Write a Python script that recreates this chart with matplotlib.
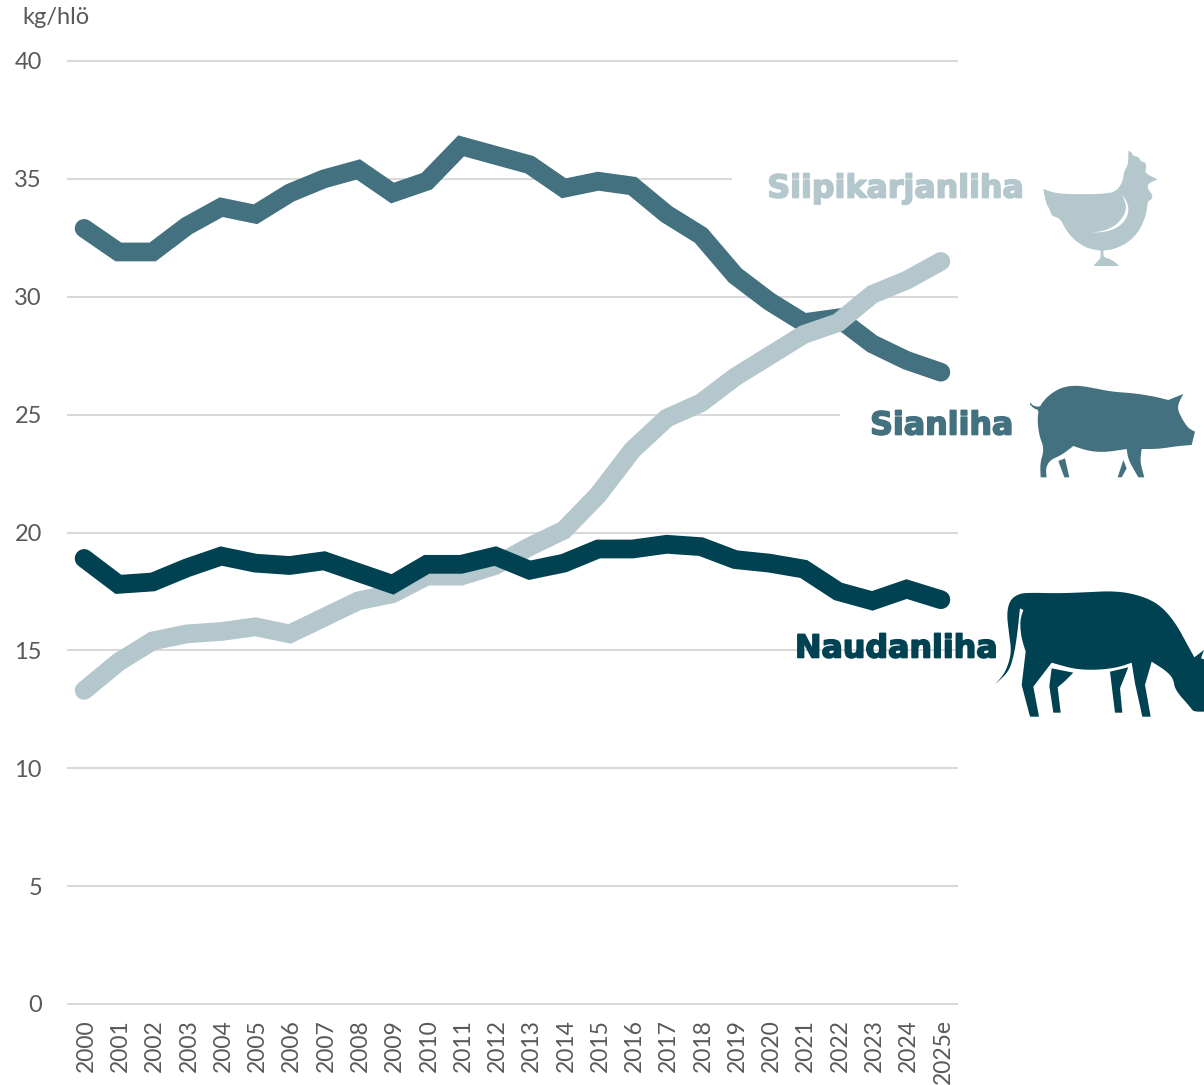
import matplotlib
matplotlib.use('Agg')
import matplotlib.pyplot as plt
import matplotlib.patheffects as pe
from matplotlib.patches import Polygon
from matplotlib.transforms import ScaledTranslation
import numpy as np

W, H = 1204, 1085

year_labels = [str(y) for y in range(2000, 2025)] + ['2025e']
y_ticks = [0, 5, 10, 15, 20, 25, 30, 35, 40]

# kg/hlo
sianliha = [32.9, 31.9, 31.9, 33.0, 33.8, 33.5, 34.4, 35.0, 35.4, 34.4, 34.9, 36.4, 36.0,
            35.6, 34.6, 34.9, 34.7, 33.5, 32.6, 30.9, 29.8, 28.9, 29.1, 28.0, 27.3, 26.8]
siipikarja = [13.3, 14.5, 15.4, 15.7, 15.8, 16.0, 15.7, 16.4, 17.1, 17.4, 18.15, 18.15, 18.6,
              19.4, 20.1, 21.6, 23.5, 24.85, 25.5, 26.6, 27.5, 28.4, 28.9, 30.1, 30.7, 31.5]
naudanliha = [18.9, 17.8, 17.9, 18.5, 19.0, 18.7, 18.6, 18.8, 18.3, 17.8, 18.65, 18.65, 19.0,
              18.4, 18.7, 19.3, 19.3, 19.5, 19.4, 18.85, 18.7, 18.45, 17.5, 17.1, 17.6, 17.15]

C_PORK = '#44717f'
C_POULTRY = '#b3c7cd'
C_BEEF = '#004152'
C_GRID = '#d9d9d9'
C_TEXT = '#595959'

plt.rcParams['font.family'] = ['Lato', 'DejaVu Sans']

fig = plt.figure(figsize=(W / 100, H / 100), dpi=100)
ax = fig.add_axes([67 / W, 1 - 1004 / H, (958 - 67) / W, (1004 - 61) / H])

x = np.arange(len(year_labels))
ax.set_xlim(-0.5, len(year_labels) - 0.5)
ax.set_ylim(0, 40)

# two gridlines stop short of the series labels
for t in y_ticks:
    end = 25.5
    if t == 35:
        end = 18.9
    if t == 25:
        end = 22.05
    ax.plot([-0.5, end], [t, t], color=C_GRID, lw=1.5, zorder=1, clip_on=False, solid_capstyle='butt')

ax.plot(x, sianliha, color=C_PORK, lw=13.5, solid_capstyle='round', solid_joinstyle='miter', zorder=2, clip_on=False)
ax.plot(x, siipikarja, color=C_POULTRY, lw=13.5, solid_capstyle='round', solid_joinstyle='miter', zorder=3, clip_on=False)
ax.plot(x, naudanliha, color=C_BEEF, lw=13.5, solid_capstyle='round', solid_joinstyle='miter', zorder=4, clip_on=False)

for s in ax.spines.values():
    s.set_visible(False)
ax.set_xticks(x)
ax.set_xticklabels(year_labels, rotation=90, fontsize=16.5, color=C_TEXT)
ax.set_yticks(y_ticks)
ax.set_yticklabels([str(t) for t in y_ticks], fontsize=17, color=C_TEXT)
ax.tick_params(axis='x', length=0, pad=11)
ax.tick_params(axis='y', length=0, pad=18)
shift = ScaledTranslation(1.5 / 72, 0, fig.dpi_scale_trans)
for lab in ax.get_xticklabels():
    lab.set_transform(lab.get_transform() + shift)

# overlay in pixel coordinates for labels and the animal icons
ov = fig.add_axes([0, 0, 1, 1])
ov.set_xlim(0, W)
ov.set_ylim(H, 0)
ov.axis('off')
ov.patch.set_alpha(0)

ov.text(22, 18, 'kg/hlö', fontsize=17, color=C_TEXT, ha='left', va='center')
bold = ['DejaVu Sans']
for name, px, py, col in [('Siipikarjanliha', 1023, 189, C_POULTRY),
                          ('Sianliha', 1013, 426, C_PORK),
                          ('Naudanliha', 997, 649, C_BEEF)]:
    txt = ov.text(px, py, name, fontsize=22.8, family=bold, fontweight='bold', color=col, ha='right', va='center')
    txt.set_path_effects([pe.withStroke(linewidth=1.2, foreground=col)])


def smooth(pts, sharp, n=3):
    # corner cutting, vertices in sharp stay as they are
    for _ in range(n):
        new = []
        for i, p in enumerate(pts):
            if p in sharp:
                new.append(p)
                continue
            a = pts[i - 1]
            b = pts[(i + 1) % len(pts)]
            new.append((0.75 * p[0] + 0.25 * a[0], 0.75 * p[1] + 0.25 * a[1]))
            new.append((0.75 * p[0] + 0.25 * b[0], 0.75 * p[1] + 0.25 * b[1]))
        pts = new
    return pts


def icon(points, ox, oy, color, sharp=None):
    if sharp is None:
        sharp = points
    pts = smooth(points, sharp)
    pts = [(ox + px / 3, oy + py / 3) for px, py in pts]
    ov.add_patch(Polygon(pts, closed=True, facecolor=color, edgecolor='none'))


chicken = [(40, 147), (85, 163), (235, 162), (262, 150), (278, 125), (282, 95), (295, 72), (295, 33),
           (303, 35), (310, 48), (325, 50), (333, 65), (348, 68), (348, 85), (345, 100), (383, 118),
           (355, 130), (352, 145), (368, 165), (365, 178), (352, 185), (350, 220), (330, 270), (295, 308),
           (250, 328), (220, 332), (220, 352), (245, 358), (268, 378), (190, 378), (208, 358), (212, 352),
           (212, 332), (170, 325), (130, 298), (105, 265), (90, 235), (65, 228), (60, 210), (48, 190)]
wing = [(275, 162), (291, 185), (297, 210), (287, 240), (262, 264), (225, 276), (185, 278), (225, 272),
        (257, 256), (279, 232), (289, 207), (285, 185)]
icon(chicken, 1030, 140, C_POULTRY, [(40, 147), (295, 33), (383, 118), (268, 378), (190, 378), (220, 332), (212, 332)])
icon(wing, 1030, 140, 'white', [(275, 162), (185, 278)])

pig = [(15, 82), (25, 93), (45, 96), (50, 85), (70, 62), (100, 42), (130, 33), (165, 32), (210, 40),
       (260, 50), (330, 55), (390, 65), (430, 75), (475, 57), (455, 95), (470, 130), (490, 160), (510, 170),
       (500, 210), (460, 213), (400, 222), (350, 222), (345, 260), (358, 307), (340, 307), (310, 255),
       (305, 222), (240, 232), (190, 228), (145, 213), (110, 240), (75, 255), (62, 280), (65, 307), (47, 307),
       (45, 265), (58, 222), (42, 180), (37, 130), (42, 105), (25, 100), (15, 88)]
icon(pig, 1025, 375, C_PORK, [(15, 82), (430, 75), (475, 57), (510, 170), (500, 210), (350, 222), (358, 307),
                              (340, 307), (305, 222), (145, 213), (65, 307), (47, 307), (15, 88)])
icon([(100, 258), (120, 250), (133, 307), (118, 307)], 1025, 375, C_PORK)
icon([(295, 255), (305, 280), (290, 307), (278, 307)], 1025, 375, C_PORK)

cow = [(30, 313), (60, 280), (80, 220), (72, 160), (65, 100), (75, 60), (100, 42), (130, 38), (220, 40),
       (300, 37), (380, 33), (440, 40), (500, 60), (540, 90), (575, 135), (605, 190), (628, 232), (657, 210),
       (648, 235), (657, 238), (657, 395), (625, 395), (615, 380), (570, 330), (565, 295), (540, 270), (500, 245),
       (480, 315), (497, 410), (472, 410), (450, 310), (440, 248), (400, 262), (340, 270), (270, 268), (200, 248),
       (145, 320), (162, 410), (135, 410), (110, 315), (122, 215), (108, 170), (105, 120), (115, 90), (105, 85),
       (97, 160), (88, 220), (72, 275)]
icon(cow, 985, 580, C_BEEF, [(30, 313), (628, 232), (657, 210), (648, 235), (657, 238), (657, 395), (500, 245),
                             (480, 315), (497, 410), (472, 410), (450, 310), (440, 248), (200, 248), (145, 320),
                             (162, 410), (135, 410), (110, 315), (122, 215), (115, 90), (105, 85)])
icon([(200, 265), (265, 278), (240, 303), (218, 322), (227, 398), (205, 398), (193, 318)], 985, 580, C_BEEF)
icon([(375, 275), (430, 262), (405, 325), (412, 398), (390, 398)], 985, 580, C_BEEF)

fig.savefig('out.png', dpi=100)
